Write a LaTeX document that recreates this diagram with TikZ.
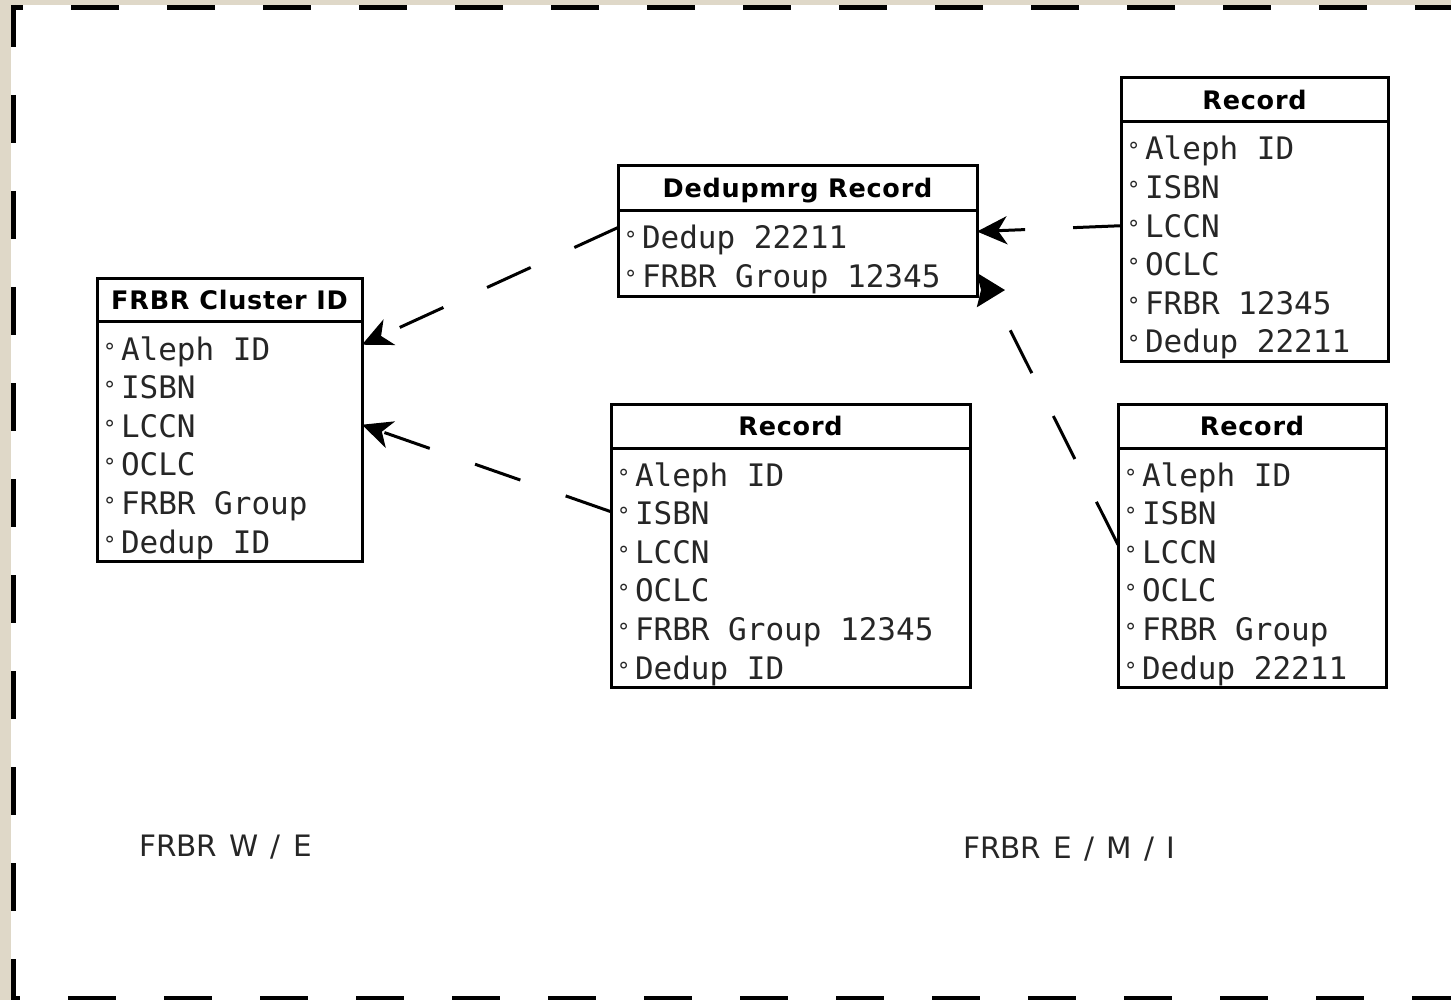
\documentclass[tikz,border=0pt]{standalone}
\usepackage{fontspec}
\setmainfont{DejaVu Sans}
\newfontfamily\monofont{DejaVu Sans Mono}
\newfontfamily\headfont[LetterSpace=3.0]{DejaVu Sans}
\newfontfamily\areafont[WordSpace=1.3]{DejaVu Sans}
\usetikzlibrary{arrows.meta}

\definecolor{paper}{RGB}{223,216,200}
\newcommand{\bul}{\makebox[18pt][l]{\raisebox{1pt}{\fontsize{22}{22}\selectfont °}}}
\newcommand{\firstrow}{\spaceskip 18.6pt\relax\rule{0pt}{36pt}}

\begin{document}
\begin{tikzpicture}[x=1pt, y=-1pt]
    \tikzstyle{head} = [draw, line width=3pt, outer sep=0pt, anchor=north west, font=\headfont\fontsize{25.5}{30}\selectfont\bfseries, text height=18.6pt, text depth=0pt, minimum height=44pt]
    \tikzstyle{body} = [draw, line width=3pt, outer sep=0pt, anchor=north west, inner xsep=6pt, inner ysep=2pt, align=left, font=\monofont\fontsize{31}{38.6}\selectfont, text=black!85]
    \tikzstyle{link} = [line width=3pt, dash pattern=on 48pt off 48pt, -{Stealth[length=30pt, width=28pt, inset=9pt]}]
    \tikzstyle{area} = [font=\areafont\fontsize{29.5}{34}\selectfont, text=black!85, anchor=base west, inner sep=0pt]

    \useasboundingbox (0,0) rectangle (1451,1000);
    \fill[paper] (0,0) rectangle (1451,1000);
    \fill[white] (11,5) rectangle (1451,1000);
    \draw[line width=5pt, dash pattern=on 48pt off 48pt, dash phase=36pt] (11,7.5) -- (1451,7.5);
    \draw[line width=5pt, dash pattern=on 48pt off 48pt, dash phase=6pt] (13.5,5) -- (13.5,1000);
    \draw[line width=5pt, dash pattern=on 48pt off 48pt, dash phase=39pt] (11,998) -- (1451,998);

    \node[head, minimum width=265pt, minimum height=43pt] (clh) at (97,279) {FRBR Cluster ID};
    \node[body, text width=253pt] (clb) at (clh.south west)
        {\firstrow\bul Aleph ID\\ \bul ISBN\\ \bul LCCN\\ \bul OCLC\\ \bul FRBR Group\\ \bul Dedup ID};

    \node[head, minimum width=359pt, minimum height=45pt] (dmh) at (618,166) {Dedupmrg Record};
    \node[body, text width=347pt] (dmb) at (dmh.south west)
        {\firstrow\bul Dedup 22211\\ \bul FRBR Group 12345};

    \node[head, minimum width=267pt] (trh) at (1121,78) {Record};
    \node[body, text width=255pt] (trb) at (trh.south west)
        {\firstrow\bul Aleph ID\\ \bul ISBN\\ \bul LCCN\\ \bul OCLC\\ \bul FRBR 12345\\ \bul Dedup 22211};

    \node[head, minimum width=359pt] (mdh) at (611,404) {Record};
    \node[body, text width=347pt] (mdb) at (mdh.south west)
        {\firstrow\bul Aleph ID\\ \bul ISBN\\ \bul LCCN\\ \bul OCLC\\ \bul FRBR Group 12345\\ \bul Dedup ID};

    \node[head, minimum width=268pt] (brh) at (1118,404) {Record};
    \node[body, text width=256pt] (brb) at (brh.south west)
        {\firstrow\bul Aleph ID\\ \bul ISBN\\ \bul LCCN\\ \bul OCLC\\ \bul FRBR Group\\ \bul Dedup 22211};

    \node[area] (we) at (139,856) {FRBR W / E};
    \node[area] (emi) at (963,858) {FRBR E / M / I};

    \draw[link] ([yshift=26pt]dmb.west) -- ([yshift=97pt]clb.east);
    \draw[link] ([yshift=56pt]mdb.west) -- ([yshift=17pt]clb.east);
    \draw[link] ([yshift=16pt]trb.west) -- ([yshift=22pt]dmb.east);

    \coordinate (kink) at ([xshift=13pt, yshift=6pt]dmb.south east);
    \draw[link, -{Stealth[length=28pt, width=34pt, inset=4pt, reversed]}]
        ([yshift=23pt]brb.west) -- (kink) -- ([yshift=6pt]dmb.south east);
\end{tikzpicture}
\end{document}
